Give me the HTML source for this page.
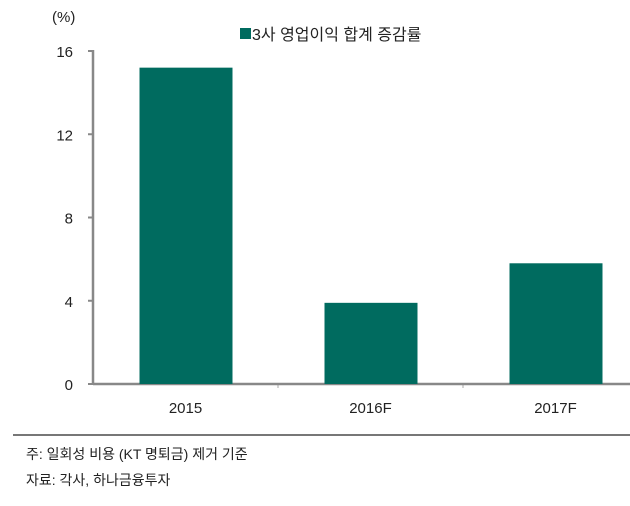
<!DOCTYPE html>
<html><head><meta charset="utf-8"><style>
body{margin:0;background:#fff;}
svg text{font-family:"Liberation Sans","Noto Sans CJK KR",sans-serif;fill:#222;}
</style></head><body>
<svg width="630" height="501" viewBox="0 0 630 501" xmlns="http://www.w3.org/2000/svg">
<text x="52" y="22" font-size="15">(%)</text>
<g>
<rect x="240" y="28" width="11" height="11" fill="#006b5f"/>
<text x="252" y="40" font-size="16">3사 영업이익 합계 증감률</text>
</g>
<g id="axes"></g>
<g id="bars"></g>
<line x1="13" y1="435" x2="630" y2="435" stroke="#777" stroke-width="2"/>
<text x="26" y="459" font-size="14">주: 일회성 비용 (KT 명퇴금) 제거 기준</text>
<text x="26" y="485" font-size="14">자료: 각사, 하나금융투자</text>
</svg>
<script>
const categories=["2015","2016F","2017F"];
const values=[15.2,3.9,5.8];
const yTicks=[0,4,8,12,16];
const NS="http://www.w3.org/2000/svg";
const x0=93,x1=648,yBase=384,yTop=51,yMax=16;
const band=(x1-x0)/categories.length;
const y=v=>yBase-(v/yMax)*(yBase-yTop);
const axes=document.getElementById('axes'),bars=document.getElementById('bars');
function mk(tag,attrs,parent){const e=document.createElementNS(NS,tag);for(const k in attrs)e.setAttribute(k,attrs[k]);parent.appendChild(e);return e;}
yTicks.forEach(t=>{
 const l=mk('line',{x1:88,x2:x0,y1:y(t),y2:y(t),stroke:'#888','stroke-width':2},axes);
 
 
 const tx=mk('text',{x:73,y:y(t)+6,'font-size':15,'text-anchor':'end'},axes);
 tx.textContent=t;
 
 
});
categories.forEach((c,i)=>{
 const cx=x0+band*(i+0.5);
 const r=mk('rect',{x:cx-46,y:y(values[i]),width:93,height:yBase-y(values[i]),fill:'#006b5f'},bars);
 
 
 const tx=mk('text',{x:cx,y:413,'font-size':15,'text-anchor':'middle'},axes);
 tx.textContent=c;
 
 
 if(i>0){const t=mk('line',{x1:x0+band*i,x2:x0+band*i,y1:yBase,y2:yBase+4,stroke:'#aaa','stroke-width':1},axes);
 
 }
});
const ya=mk('line',{x1:x0,x2:x0,y1:yTop-1,y2:yBase+1,stroke:'#888','stroke-width':2.5},axes);


const xa=mk('line',{x1:x0,x2:630,y1:yBase,y2:yBase,stroke:'#888','stroke-width':2.5},axes);


</script>
</body></html>
